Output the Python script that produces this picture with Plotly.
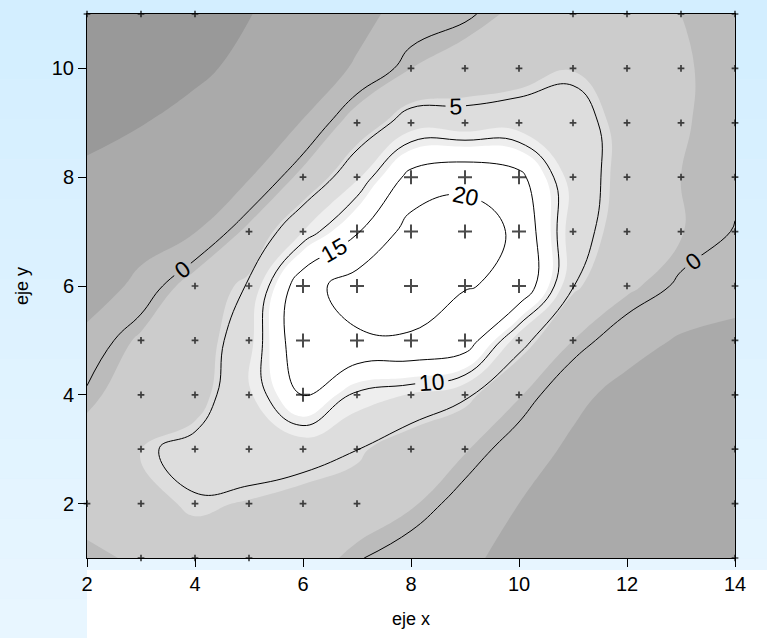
import plotly.graph_objects as go

# ---------------- data ----------------
x_grid = [2, 3, 4, 5, 6, 7, 8, 9, 10, 11, 12, 13, 14]
y_grid = [1, 2, 3, 4, 5, 6, 7, 8, 9, 10, 11]

# z values, one row per y (y = 1 ... 11), columns x = 2 ... 14
z_y1 = [0.6, 1.3, 3.5, 3.4, 2.6, 0.2, -1.3, -2.2, -3.0, -4.2, -5.2, -5.6, -5.8]
z_y2 = [1.8, 3.9, 4.8, 4.36, 3.67, 3.0, 1.3, -1.0, -2.5, -3.3, -4.3, -5.0, -5.4]
z_y3 = [2.4, 4.6, 5.8, 6.3, 6.0, 5.05, 2.5, 1.2, -1.2, -3.0, -3.7, -4.5, -5.0]
z_y4 = [0.3, 2.8, 3.3, 7.5, 15.2, 9.3, 7.8, 5.5, 1.2, -1.8, -3.4, -3.8, -4.3]
z_y5 = [-1.5, 1.5, 2.65, 7.0, 18.9, 19.3, 19.3, 17.8, 6.2, 1.0, -1.4, -2.8, -3.2]
z_y6 = [-4.5, -1.6, 2.4, 5.3, 18.1, 22.3, 23.5, 20.2, 19.3, 5.1, 1.5, -0.4, -1.5]
z_y7 = [-5.2, -4.0, -2.6, 1.7, 8.0, 14.6, 22.0, 23.0, 19.0, 6.2, 3.2, 1.1, -0.1]
z_y8 = [-5.6, -4.8, -3.8, -2.7, 1.8, 7.5, 16.5, 18.5, 16.3, 6.5, 3.6, 1.0, 0.4]
z_y9 = [-6.6, -6.1, -5.0, -3.8, -2.4, 2.5, 6.5, 6.0, 6.5, 6.3, 3.5, 1.1, 0.6]
z_y10 = [-9.0, -8.0, -6.6, -5.2, -4.0, -2.2, 1.0, 2.8, 3.3, 4.4, 3.2, 1.1, 0.7]
z_y11 = [-10.0, -9.0, -7.5, -6.1, -4.6, -3.3, -1.5, -0.5, 1.8, 2.8, 2.5, 1.0, 0.7]
z_grid = [z_y1, z_y2, z_y3, z_y4, z_y5, z_y6, z_y7, z_y8, z_y9, z_y10, z_y11]

# sampled points (shown as + markers)
sample_x = [3, 4, 5, 14,
            2, 3, 4, 5, 6, 7, 14,
            3, 4, 5, 6, 7, 8, 9, 14,
            3, 4, 5, 6, 7, 8, 9, 10, 14,
            3, 4, 5, 6, 7, 8, 9, 10, 11, 14,
            4, 5, 6, 7, 8, 9, 10, 11, 12, 14,
            5, 6, 7, 8, 9, 10, 11, 12, 13, 14,
            6, 7, 8, 9, 10, 11, 12, 13, 14,
            7, 8, 9, 10, 11, 12, 13, 14,
            8, 9, 10, 11, 12, 13, 14,
            2, 3, 4, 11, 12, 13, 14]
sample_y = [1] * 4 + [2] * 7 + [3] * 8 + [4] * 9 + [5] * 10 + [6] * 10 + \
           [7] * 10 + [8] * 9 + [9] * 8 + [10] * 7 + [11] * 7

line_levels = dict(start=0, end=20, size=5)
x_ticks = [2, 4, 6, 8, 10, 12, 14]
y_ticks = [2, 4, 6, 8, 10]

# ---------------- figure ----------------
W, H = 767, 638
ML, MR, MT, MB = 87, 32, 14, 80
pw, ph = W - ML - MR, H - MT - MB

font_family = "Liberation Sans, Arial, sans-serif"

fig = go.Figure()

# filled bands
gray_scale = [[0.0, "#999999"], [1 / 6, "#aaaaaa"], [2 / 6, "#bbbbbb"],
              [3 / 6, "#cccccc"], [4 / 6, "#dddddd"], [5 / 6, "#eeeeee"],
              [1.0, "#ffffff"]]
fig.add_trace(go.Contour(
    x=x_grid, y=y_grid, z=z_grid,
    contours=dict(coloring="fill", start=-6, end=11.5, size=3.5, showlines=False),
    colorscale=gray_scale, showscale=False,
    line=dict(width=0, smoothing=1.3),
    hoverinfo="skip",
))

# labelled black contour lines
fig.add_trace(go.Contour(
    x=x_grid, y=y_grid, z=z_grid,
    contours=dict(coloring="none", showlabels=True,
                  labelfont=dict(size=23, color="black", family=font_family),
                  **line_levels),
    line=dict(color="black", width=1, smoothing=1.3),
    showscale=False, hoverinfo="skip",
))

# sample markers: bigger where the value is high
def zval(xv, yv):
    return z_grid[y_grid.index(yv)][x_grid.index(xv)]

sizes = [10 if zval(a, b) >= 10 else 4.8 for a, b in zip(sample_x, sample_y)]
widths = [2 if zval(a, b) >= 10 else 1.7 for a, b in zip(sample_x, sample_y)]
fig.add_trace(go.Scatter(
    x=sample_x, y=sample_y, mode="markers",
    marker=dict(symbol="cross-thin", size=sizes, color="black",
                line=dict(color="black", width=widths)),
    cliponaxis=False, hoverinfo="skip", showlegend=False,
))

# background: light-blue gradient and a white block below the plot
shapes = []
n_strips = 16
top_rgb = (0xD3, 0xEE, 0xFF)
bot_rgb = (0xE8, 0xF6, 0xFF)
for i in range(n_strips):
    t = i / (n_strips - 1)
    col = "rgb(%d,%d,%d)" % tuple(round(a + (b - a) * t) for a, b in zip(top_rgb, bot_rgb))
    y_top_px = H * i / n_strips
    y_bot_px = H * (i + 1) / n_strips
    shapes.append(dict(
        type="rect", xref="paper", yref="paper", layer="below",
        x0=-ML / pw, x1=1 + MR / pw,
        y0=(H - MB - y_bot_px) / ph, y1=(H - MB - y_top_px) / ph,
        fillcolor=col, line=dict(width=0)))
shapes.append(dict(
    type="rect", xref="paper", yref="paper", layer="below",
    x0=0, x1=1 + MR / pw,
    y0=-MB / ph, y1=-(570 - (H - MB)) / ph,
    fillcolor="white", line=dict(width=0)))

axis_common = dict(showline=True, linecolor="black", linewidth=1, mirror=True,
                   ticks="outside", ticklen=8, tickcolor="black", tickwidth=1,
                   showgrid=False, zeroline=False, automargin=False,
                   tickfont=dict(size=20, color="black", family=font_family))

fig.update_layout(
    width=W, height=H,
    margin=dict(l=ML, r=MR, t=MT, b=MB),
    paper_bgcolor="#dcf1ff", plot_bgcolor="#999999",
    shapes=shapes,
    showlegend=False,
    xaxis=dict(range=[2, 14], tickvals=x_ticks,
               title=dict(text="eje x", font=dict(size=18, color="black", family=font_family),
                          standoff=18),
               **axis_common),
    yaxis=dict(range=[1, 11], tickvals=y_ticks,
               title=dict(text="eje y", font=dict(size=18, color="black", family=font_family),
                          standoff=18),
               **axis_common),
)

fig.write_html("out.html",
               config={"displayModeBar": False},
               post_script="document.body.style.margin='0px';document.body.style.overflow='hidden';")
